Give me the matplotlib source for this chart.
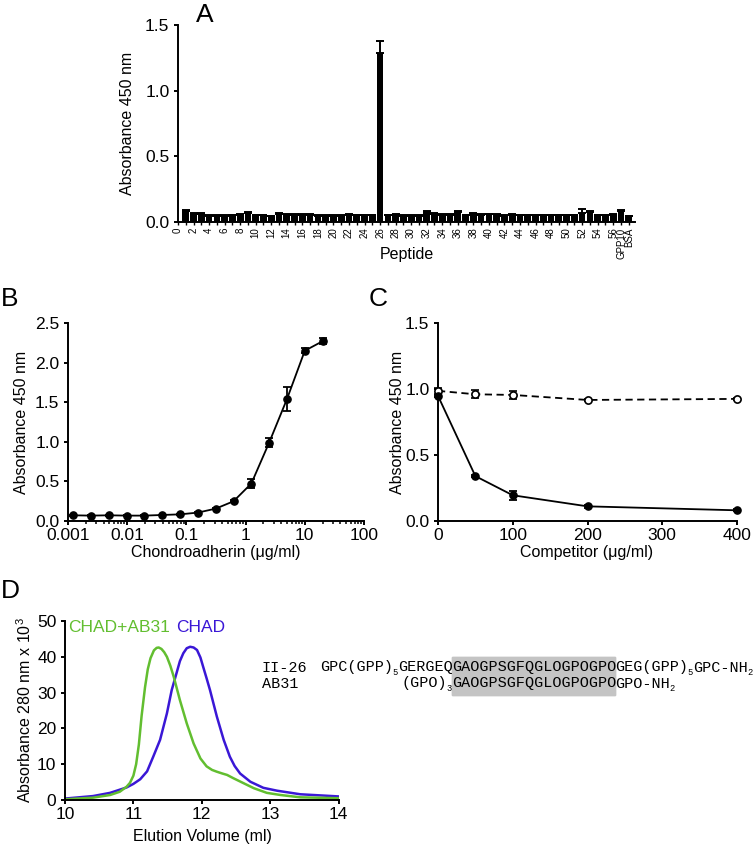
"""Peptide screen, CHAD binding curve, competition and gel filtration (4-panel figure)."""
import matplotlib

matplotlib.use("Agg")
import matplotlib.pyplot as plt
from matplotlib.patches import Rectangle
from matplotlib.ticker import LogLocator, NullFormatter

W, H = 754, 848
C_GREEN = "#62BE30"; C_BLUE = "#3A17D6"; C_HL = "#C4C4C4"
FS = 11.5      # axis titles
FS_TICK = 12.5

# --- A: peptide screen (positions 1..56, GPP10, BSA)
A_POS = list(range(1, 59))
A_MEAN = [0.082, 0.060, 0.060, 0.048, 0.048, 0.048, 0.050, 0.055, 0.072, 0.051,
          0.051, 0.043, 0.062, 0.053, 0.053, 0.053, 0.053, 0.048, 0.048, 0.048,
          0.048, 0.055, 0.051, 0.051, 0.051, 1.290, 0.051, 0.055, 0.048, 0.048,
          0.048, 0.079, 0.062, 0.055, 0.055, 0.074, 0.051, 0.060, 0.055, 0.058,
          0.055, 0.048, 0.053, 0.051, 0.051, 0.051, 0.051, 0.051, 0.051, 0.051,
          0.051, 0.068, 0.079, 0.051, 0.051, 0.055, 0.087, 0.043]
A_ERR = [0.007, 0.006, 0.006, 0.005, 0.005, 0.005, 0.005, 0.005, 0.007, 0.005,
         0.005, 0.005, 0.006, 0.005, 0.005, 0.005, 0.005, 0.005, 0.005, 0.005,
         0.005, 0.005, 0.005, 0.005, 0.005, 0.090, 0.005, 0.005, 0.005, 0.005,
         0.005, 0.007, 0.006, 0.005, 0.005, 0.007, 0.005, 0.006, 0.005, 0.005,
         0.005, 0.005, 0.005, 0.005, 0.005, 0.005, 0.005, 0.005, 0.005, 0.005,
         0.005, 0.031, 0.007, 0.005, 0.005, 0.005, 0.007, 0.005]
A_TICKS = list(range(0, 57, 2)) + [57, 58]
A_TICKLABELS = [str(i) for i in range(0, 57, 2)] + ["GPP10", "BSA"]

# --- B: CHAD titration
B_CONC = [0.00122, 0.00244, 0.00488, 0.00977, 0.0195, 0.0391, 0.0781, 0.156,
          0.3125, 0.625, 1.25, 2.5, 5, 10, 20]
B_ABS = [0.072, 0.068, 0.072, 0.068, 0.068, 0.076, 0.084, 0.106, 0.156, 0.249,
         0.473, 0.99, 1.54, 2.15, 2.27]
B_ERR = [0.004, 0.004, 0.004, 0.004, 0.004, 0.004, 0.005, 0.006, 0.01, 0.012,
         0.06, 0.06, 0.15, 0.035, 0.04]
B_TICKS = [0.001, 0.01, 0.1, 1, 10, 100]
B_TICKLABELS = ["0.001", "0.01", "0.1", "1", "10", "100"]

# --- C: competition
C_CONC = [0, 50, 100, 200, 400]
C_FILLED = [0.948, 0.34, 0.195, 0.111, 0.081]
C_FILLED_ERR = [0.01, 0.01, 0.035, 0.01, 0.008]
C_OPEN = [0.986, 0.96, 0.955, 0.917, 0.925]
C_OPEN_ERR = [0.025, 0.03, 0.03, 0.006, 0.006]

# --- D: gel filtration traces
D_VOL_GREEN = [10.0, 10.41, 10.66, 10.8, 10.9, 10.95, 11.0, 11.04, 11.08, 11.12,
               11.17, 11.21, 11.25, 11.3, 11.34, 11.37, 11.41, 11.45, 11.49, 11.54,
               11.59, 11.68, 11.78, 11.88, 11.98, 12.07, 12.15, 12.22, 12.3, 12.37,
               12.46, 12.61, 12.76, 12.95, 13.15, 13.44, 14.0]
D_ABS_GREEN = [0.2, 0.65, 1.4, 2.3, 3.7, 4.8, 6.8, 10.0, 15.5, 23.5,
               31.5, 36.5, 39.6, 41.8, 42.5, 42.6, 42.2, 41.3, 40.0, 37.5,
               34.4, 27.9, 21.4, 15.8, 11.6, 9.4, 8.4, 7.9, 7.4, 7.0,
               6.1, 4.7, 3.3, 2.0, 1.4, 0.75, 0.5]
D_VOL_BLUE = [10.0, 10.41, 10.66, 10.9, 11.0, 11.1, 11.2, 11.29, 11.39, 11.49,
              11.56, 11.63, 11.68, 11.73, 11.78, 11.83, 11.88, 11.93, 11.98, 12.02,
              12.07, 12.12, 12.22, 12.32, 12.41, 12.48, 12.56, 12.71, 12.9, 13.1,
              13.44, 14.0]
D_ABS_BLUE = [0.4, 1.1, 2.0, 3.5, 4.5, 5.8, 8.0, 12.1, 16.8, 24.2,
              30.7, 35.4, 38.8, 41.0, 42.4, 42.8, 42.6, 41.9, 39.8, 37.2,
              34.0, 30.7, 23.3, 16.8, 12.1, 9.5, 7.4, 5.1, 3.4, 2.6,
              1.6, 1.0]

# peptide sequences: (text, is_subscript, is_highlighted)
SEQ_II26 = [("GPC(GPP)", 0, 0), ("5", 1, 0), ("GERGEQ", 0, 0),
            ("GAOGPSGFQGLOGPOGPO", 0, 1), ("GEG(GPP)", 0, 0), ("5", 1, 0),
            ("GPC-NH", 0, 0), ("2", 1, 0)]
SEQ_AB31 = [("(GPO)", 0, 0), ("3", 1, 0), ("GAOGPSGFQGLOGPOGPO", 0, 1),
            ("GPO-NH", 0, 0), ("2", 1, 0)]

plt.rcParams.update({
    "font.family": ["Liberation Sans", "DejaVu Sans"],
    "mathtext.fontset": "custom", "mathtext.rm": "Liberation Sans",
    "mathtext.it": "Liberation Sans", "mathtext.bf": "Liberation Sans",
})


def px_axes(fig, l, r, t, b):
    return fig.add_axes([l / W, 1 - b / H, (r - l) / W, (b - t) / H])


def ptxt(fig, x, y, s, **kw):
    kw.setdefault("ha", "center"); kw.setdefault("va", "center")
    return fig.text(x / W, 1 - y / H, s, **kw)


def prism(ax):
    for s in ("top", "right"):
        ax.spines[s].set_visible(False)
    for s in ("left", "bottom"):
        ax.spines[s].set_linewidth(1.4)
    ax.tick_params(width=1.4, length=3.2, labelsize=FS_TICK, direction="out")
    ax.tick_params(axis="x", pad=1.8)
    ax.tick_params(axis="y", pad=3.0)
    ax.tick_params(which="minor", width=1.1, length=2.2)


def panel_a(fig):
    ax = px_axes(fig, 178, 635, 25, 222); prism(ax)
    ax.bar(A_POS, A_MEAN, width=0.86, color="black",
           yerr=[[0] * len(A_ERR), A_ERR], error_kw=dict(ecolor="black", elinewidth=1.4, capsize=2.6, capthick=1.4))
    ax.set_xlim(0, 58.8); ax.set_ylim(0, 1.5)
    ax.set_yticks([0, 0.5, 1.0, 1.5]); ax.set_yticklabels(["0.0", "0.5", "1.0", "1.5"])
    ax.set_xticks(A_TICKS); ax.set_xticklabels(A_TICKLABELS, rotation=90, fontsize=7)
    ax.set_xticks(list(range(1, 57, 2)), minor=True)
    ax.tick_params(axis="x", length=2.5, width=1, pad=1.5)
    ax.tick_params(axis="x", which="minor", length=2.5, width=1)
    ptxt(fig, 128, 123.5, "Absorbance 450 nm", rotation=90, fontsize=FS)
    ptxt(fig, 406.5, 254, "Peptide", fontsize=FS)
    ptxt(fig, 205, 15, "A", fontsize=19)


def panel_b(fig):
    ax = px_axes(fig, 68, 364, 323, 521); prism(ax)
    ax.set_xscale("log")
    ax.errorbar(B_CONC, B_ABS, yerr=B_ERR, color="black", lw=1.3, marker="o", ms=5.2,
                capsize=2.6, capthick=1.3, elinewidth=1.3, clip_on=False, zorder=3)
    ax.set_xlim(0.001, 100); ax.set_ylim(0, 2.5)
    ax.set_xticks(B_TICKS); ax.set_xticklabels(B_TICKLABELS)
    ax.xaxis.set_minor_locator(LogLocator(base=10, subs=range(2, 10)))
    ax.xaxis.set_minor_formatter(NullFormatter())
    ax.set_yticks([0, 0.5, 1.0, 1.5, 2.0, 2.5])
    ax.set_yticklabels(["0.0", "0.5", "1.0", "1.5", "2.0", "2.5"])
    ptxt(fig, 22, 422, "Absorbance 450 nm", rotation=90, fontsize=FS)
    ptxt(fig, 216, 553, "Chondroadherin (\u03bcg/ml)", fontsize=FS)
    ptxt(fig, 10, 299, "B", fontsize=19)


def panel_c(fig):
    ax = px_axes(fig, 438, 737, 323, 521); prism(ax)
    ax.errorbar(C_CONC, C_OPEN, yerr=C_OPEN_ERR, color="black", lw=1.3, ls=(0, (4, 2.5)),
                marker="o", ms=5.2, mfc="white", mec="black", mew=1.2,
                capsize=2.6, capthick=1.3, elinewidth=1.3, clip_on=False, zorder=3)
    ax.errorbar(C_CONC, C_FILLED, yerr=C_FILLED_ERR, color="black", lw=1.3, marker="o",
                ms=5.2, capsize=2.6, capthick=1.3, elinewidth=1.3, clip_on=False, zorder=4)
    ax.set_xlim(0, 400); ax.set_ylim(0, 1.5)
    ax.set_xticks([0, 100, 200, 300, 400])
    ax.set_yticks([0, 0.5, 1.0, 1.5]); ax.set_yticklabels(["0.0", "0.5", "1.0", "1.5"])
    ptxt(fig, 397, 422, "Absorbance 450 nm", rotation=90, fontsize=FS)
    ptxt(fig, 587, 553, "Competitor (\u03bcg/ml)", fontsize=FS)
    ptxt(fig, 378, 299, "C", fontsize=19)


def panel_d(fig):
    ax = px_axes(fig, 65, 338.6, 621, 800); prism(ax)
    ax.plot(D_VOL_BLUE, D_ABS_BLUE, color=C_BLUE, lw=1.8, solid_joinstyle="round")
    ax.plot(D_VOL_GREEN, D_ABS_GREEN, color=C_GREEN, lw=1.8, solid_joinstyle="round")
    ax.set_xlim(10, 14); ax.set_ylim(0, 50)
    ax.set_xticks([10, 11, 12, 13, 14]); ax.set_yticks([0, 10, 20, 30, 40, 50])
    ptxt(fig, 25, 710.5, "Absorbance 280 nm x 10$^3$", rotation=90, fontsize=FS)
    ptxt(fig, 202, 836, "Elution Volume (ml)", fontsize=FS)
    ptxt(fig, 118.7, 627, "CHAD+AB31", fontsize=12.5, color=C_GREEN)
    ptxt(fig, 201, 627, "CHAD", fontsize=12.5, color=C_BLUE)
    ptxt(fig, 10, 591, "D", fontsize=19)


def seq_line(fig, x_hl, ybase, parts, fs):
    """Draw monospaced sequence pieces so the highlighted stretch starts at x_hl."""
    cw = lambda s, sub: len(s) * 0.6 * fs * (0.58 if sub else 1) * 100 / 72
    pre = 0
    for s, sub, hl in parts:
        if hl:
            break
        pre += cw(s, sub)
    x = x_hl - pre
    for s, sub, hl in parts:
        w = cw(s, sub)
        if hl:
            fig.patches.append(Rectangle((x / W, 1 - 695 / H), w / W, (695 - 657) / H,
                                         transform=fig.transFigure, color=C_HL, zorder=0))
        fig.text(x / W, 1 - (ybase + (3.5 if sub else 0)) / H, s, family="Liberation Mono",
                 fontsize=fs * (0.58 if sub else 1), ha="left", va="baseline", zorder=2)
        x += w


def sequences(fig):
    fs = 10.87
    for name, parts, yb in (("II-26", SEQ_II26, 671.5), ("AB31", SEQ_AB31, 687.5)):
        fig.text(261.7 / W, 1 - yb / H, name, family="Liberation Mono", fontsize=fs,
                 ha="left", va="baseline")
        seq_line(fig, 452, yb, parts, fs)


def main():
    fig = plt.figure(figsize=(W / 100, H / 100), dpi=100)
    panel_a(fig); panel_b(fig); panel_c(fig); panel_d(fig); sequences(fig)
    fig.savefig("out.png", dpi=100)
    plt.close(fig)


if __name__ == "__main__":
    main()
